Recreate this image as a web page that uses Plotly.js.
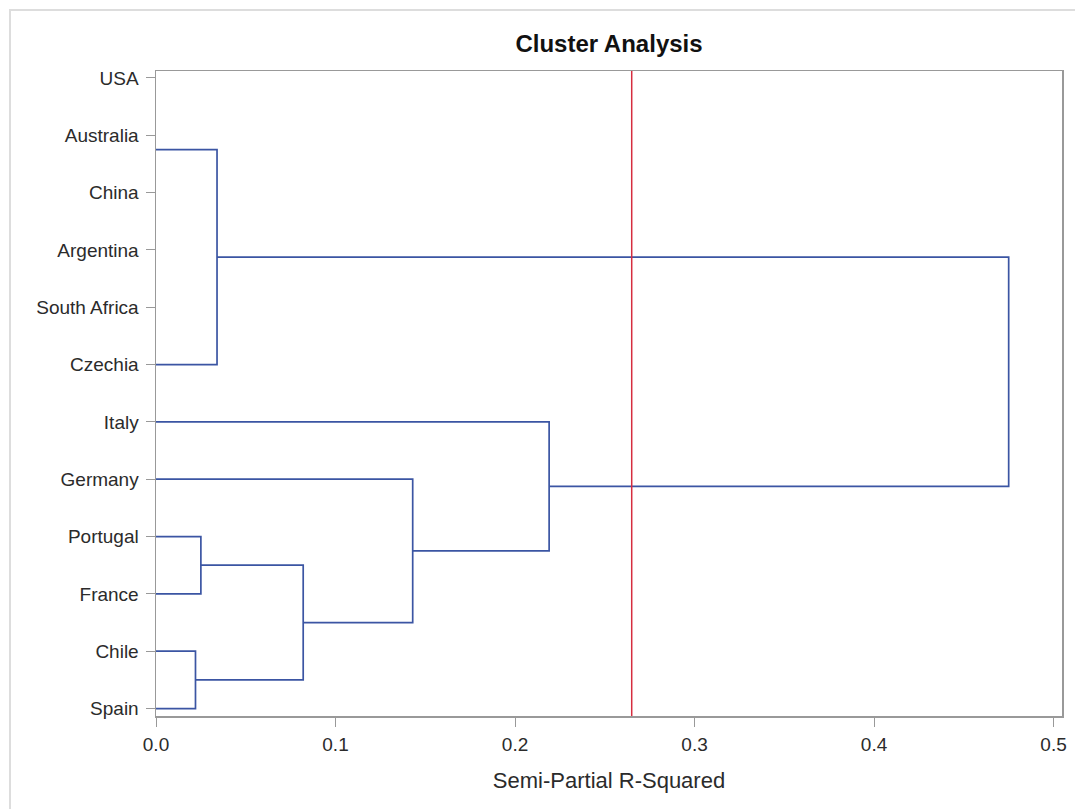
<!DOCTYPE html>
<html>
<head>
<meta charset="utf-8">
<script src="https://cdn.plot.ly/plotly-3.0.1.min.js"></script>
<style>
  html, body { margin: 0; padding: 0; background: #ffffff; }
  #chart { width: 1075px; height: 809px; }
</style>
</head>
<body>
<div id="chart"></div>
<script>
// ---- data ----
const countries = ['USA', 'Australia', 'China', 'Argentina', 'South Africa', 'Czechia',
                   'Italy', 'Germany', 'Portugal', 'France', 'Chile', 'Spain'];
// merges (clusters joined), in order
const mergeLeft   = ['Australia', 'Chile', 'Portugal', 'N3', 'Germany', 'Italy', 'N1'];
const mergeRight  = ['Czechia',   'Spain', 'France',   'N2', 'N4',      'N5',    'N6'];
const mergeHeight = [0.034, 0.022, 0.025, 0.082, 0.143, 0.219, 0.475];
// leaf branch offsets (in category units) as drawn in the reference
const leafOffset = { 'Australia': 0.25 };
const cutoff = 0.265;
const xTicks = [0.0, 0.1, 0.2, 0.3, 0.4, 0.5];

// ---- build dendrogram paths ----
const pos = {}, hgt = {};
countries.forEach((c, i) => { pos[c] = i + (leafOffset[c] || 0); hgt[c] = 0; });
const lx = [], ly = [];
mergeHeight.forEach((h, k) => {
  const a = mergeLeft[k], b = mergeRight[k], name = 'N' + (k + 1);
  lx.push(hgt[a], h, h, hgt[b], null);
  ly.push(pos[a], pos[a], pos[b], pos[b], null);
  pos[name] = (pos[a] + pos[b]) / 2;
  hgt[name] = h;
});

const font = 'Liberation Sans, Arial, Helvetica, sans-serif';
const traces = [{
  type: 'scatter', mode: 'lines', x: lx, y: ly,
  line: { color: '#3b55a3', width: 1.7 },
  hoverinfo: 'skip', showlegend: false, connectgaps: false
}];

const layout = {
  width: 1075, height: 809,
  margin: { l: 156, r: 13, t: 71, b: 93 },
  paper_bgcolor: '#ffffff', plot_bgcolor: '#ffffff',
  font: { family: font, size: 19, color: '#2b2b2b' },
  title: { text: '<b>Cluster Analysis</b>', font: { family: font, size: 24, color: '#111111' },
           x: 609 / 1075, xanchor: 'center', y: 1 - 44 / 809, yanchor: 'middle' },
  xaxis: {
    range: [0, 0.5047], tickvals: xTicks, ticktext: xTicks.map(v => v.toFixed(1)),
    ticks: 'outside', ticklen: 9, tickcolor: '#999999', tickwidth: 1,
    ticklabelstandoff: 2,
    showline: true, linecolor: '#999999', linewidth: 1.5, mirror: true,
    showgrid: false, zeroline: false,
    tickfont: { family: font, size: 19, color: '#2b2b2b' },
    title: { text: 'Semi-Partial R-Squared', font: { family: font, size: 22, color: '#2b2b2b' }, standoff: 18 }
  },
  yaxis: {
    range: [11.13, -0.12], tickvals: countries.map((c, i) => i), ticktext: countries,
    ticks: 'outside', ticklen: 9, tickcolor: '#999999', tickwidth: 1,
    ticklabelstandoff: 3,
    showline: true, linecolor: '#999999', linewidth: 1.5, mirror: true,
    showgrid: false, zeroline: false,
    tickfont: { family: font, size: 19, color: '#2b2b2b' }
  },
  shapes: [
    { type: 'line', xref: 'x', yref: 'paper', x0: cutoff, x1: cutoff, y0: 0, y1: 1,
      line: { color: '#d62d3f', width: 1.5 } },
    { type: 'rect', xref: 'paper', yref: 'paper', x0: -146 / 906, x1: 1.1, y0: -0.2, y1: 1 + 61 / 645,
      line: { color: '#dddddd', width: 2 }, layer: 'below' }
  ]
};

Plotly.newPlot('chart', traces, layout, { displayModeBar: false, staticPlot: true });
</script>
</body>
</html>
